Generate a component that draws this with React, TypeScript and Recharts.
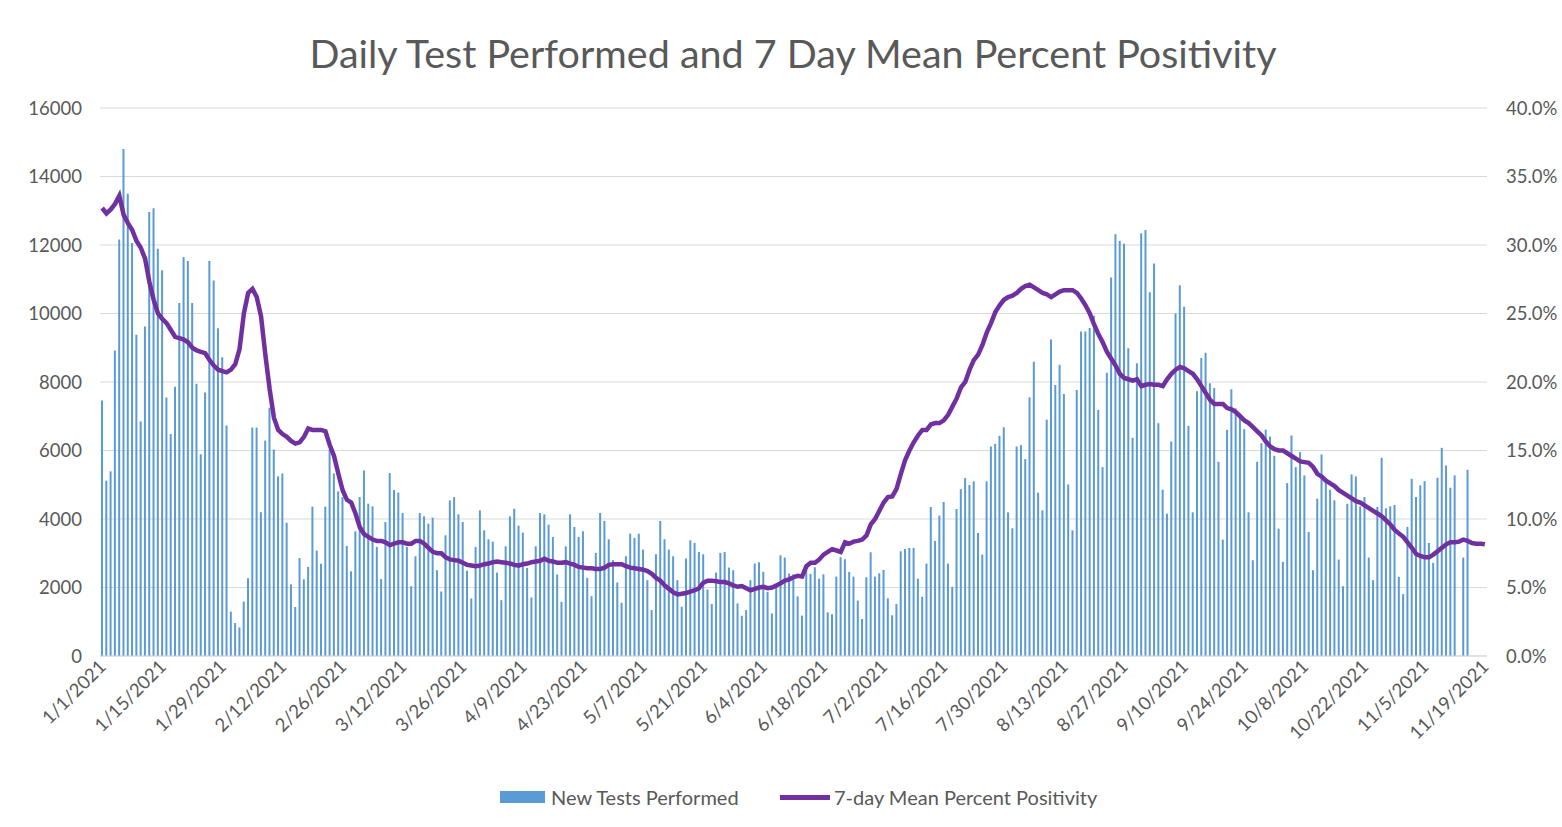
import React from 'react';
import { ComposedChart, Bar, Line, XAxis, YAxis, CartesianGrid, Legend } from 'recharts';

// Categories: every day from 1/1/2021 to 11/19/2021
const dates: string[] = [];
for (let i = 0; i < 323; i++) {
  const d = new Date(2021, 0, 1 + i);
  dates.push(`${d.getMonth() + 1}/${d.getDate()}/${d.getFullYear()}`);
}

const tickLabels = [
  '1/1/2021', '1/15/2021', '1/29/2021', '2/12/2021', '2/26/2021', '3/12/2021', '3/26/2021', '4/9/2021',
  '4/23/2021', '5/7/2021', '5/21/2021', '6/4/2021', '6/18/2021', '7/2/2021', '7/16/2021', '7/30/2021',
  '8/13/2021', '8/27/2021', '9/10/2021', '9/24/2021', '10/8/2021', '10/22/2021', '11/5/2021', '11/19/2021',
];

const leftTicks = [0, 2000, 4000, 6000, 8000, 10000, 12000, 14000, 16000];
const rightTicks = [0, 5, 10, 15, 20, 25, 30, 35, 40];

// New tests performed per day
const newTests: (number | null)[] = [
  7460, 5120, 5390, 8920, 12160, 14800, 13500, 12060, 9380, 6850, 9620, 12960, 13070, 11890, 11260, 7550, 6480, 7860, 10310, 11650, 11530, 10310, 7950, 5890, 7690, 11530, 10960,
  9570, 8725, 6730, 1296, 960, 836, 1590, 2270, 6670, 6670, 4200, 6290, 7250, 6030, 5245, 5330, 3890, 2090, 1430, 2860, 2240, 2600, 4360, 3080, 2690, 4360, 6030, 5330,
  4806, 4640, 3214, 2476, 3641, 4640, 5418, 4447, 4370, 3185, 2243, 3913, 5340, 4845, 4768, 4175, 3185, 2039, 2913, 4175, 4078, 3865, 4040, 2505, 1884, 3525, 4544,
  4641, 4136, 3913, 2486, 1680, 3185, 4253, 3670, 3408, 3340, 2437, 1631, 3204, 4078, 4302, 3806, 3602, 2573, 1709, 3204, 4175, 4136, 3835, 3476, 2379, 1583, 3204,
  4136, 3767, 3476, 3641, 2282, 1748, 3010, 4175, 3942, 3408, 2796, 2146, 1554, 2913, 3573, 3447, 3573, 3107, 2214, 1340, 2971, 3942, 3408, 3107, 2913, 2214, 1437,
  2845, 3379, 3301, 3039, 2971, 1942, 1515, 2437, 3010, 3039, 2583, 2505, 1534, 1175, 1340, 2214, 2699, 2738, 2457, 1874, 1243, 2020, 2942, 2874, 2408, 2389, 1740, 1180,
  2513, 2396, 2591, 2260, 2386, 1276, 1218, 2318, 2883, 2825, 2455, 2318, 1617, 1081, 2299, 3029, 2318, 2416, 2513, 1685, 1188, 1519, 3058, 3127, 3156, 3156, 2256,
  1728, 2699, 4350, 3360, 4098, 4496, 2699, 2020, 4292, 4874, 5195, 4991, 5098, 3593, 2961, 5098, 6117, 6195, 6428, 6680, 4195, 3729, 6117, 6156, 5748, 7554, 8590,
  4768, 4253, 6904, 9244, 7914, 8506, 7651, 5010, 3670, 7768, 9477, 9477, 9574, 9933, 7185, 5515, 8273, 11050, 12312, 12118, 12040, 8982, 6370, 8545, 12341, 12438, 10620,
  11458, 6797, 4855, 4156, 6263, 10000, 10826, 10196, 6719, 4195, 7729, 8700, 8855, 7962, 7826, 5671, 3399, 6603, 7787, 7234, 7088, 6622, 4195, 2796, 5671, 6214, 6612,
  6409, 5845, 3719, 2748, 5049, 6438, 5515, 5952, 5272, 3622, 2505, 4593, 5884, 5078, 4855, 4544, 2816, 2039, 4447, 5302, 5243, 4370, 4641, 2874, 2214, 4350, 5787,
  4311, 4370, 4408, 2311, 1806, 3767, 5175, 4641, 4981, 5107, 3301, 2719, 5204, 6078, 5564, 4913, 5272, null, 2874, 5437,
  null, null, null, null,
];

// 7-day mean percent positivity (%)
const positivity: number[] = [
  32.7, 32.3, 32.6, 33.0, 33.6, 32.2, 31.6, 31.1, 30.3, 29.8, 29.0, 27.3, 26.0, 25.0, 24.6, 24.3, 23.8, 23.3, 23.2, 23.1, 22.9, 22.5, 22.3, 22.2, 22.1, 21.6, 21.2,
  20.9, 20.8, 20.7, 20.9, 21.3, 22.4, 25.0, 26.5, 26.8, 26.2, 24.8, 22.0, 19.5, 17.4, 16.5, 16.2, 16.0, 15.7, 15.5, 15.6, 16.0, 16.6, 16.5, 16.5, 16.5, 16.4, 15.4,
  14.6, 13.3, 12.1, 11.4, 11.2, 10.4, 9.4, 8.9, 8.7, 8.5, 8.4, 8.4, 8.3, 8.1, 8.2, 8.3, 8.3, 8.2, 8.2, 8.4, 8.4, 8.2, 7.9, 7.6, 7.5, 7.5, 7.2,
  7.05, 7.0, 6.95, 6.8, 6.65, 6.6, 6.55, 6.6, 6.7, 6.75, 6.85, 6.9, 6.85, 6.8, 6.75, 6.65, 6.6, 6.7, 6.75, 6.85, 6.9, 6.95, 7.1, 6.95, 6.9, 6.8, 6.8,
  6.85, 6.75, 6.65, 6.5, 6.45, 6.4, 6.4, 6.35, 6.35, 6.45, 6.65, 6.7, 6.7, 6.7, 6.55, 6.45, 6.4, 6.35, 6.3, 6.2, 6.0, 5.7, 5.5, 5.15, 4.9, 4.65, 4.5,
  4.55, 4.6, 4.7, 4.8, 4.95, 5.35, 5.5, 5.5, 5.45, 5.4, 5.4, 5.3, 5.15, 5.05, 5.1, 4.95, 4.8, 4.9, 5.0, 5.05, 4.95, 5.0, 5.15, 5.3, 5.5, 5.6, 5.75,
  5.85, 5.8, 6.55, 6.8, 6.8, 7.05, 7.4, 7.6, 7.8, 7.7, 7.6, 8.3, 8.2, 8.35, 8.4, 8.5, 8.8, 9.6, 10.0, 10.6, 11.2, 11.6, 11.65, 12.2, 13.3, 14.3, 15.0,
  15.6, 16.1, 16.5, 16.5, 16.9, 17.0, 17.0, 17.2, 17.6, 18.2, 18.8, 19.6, 20.0, 20.9, 21.6, 22.0, 22.7, 23.6, 24.3, 25.1, 25.6, 26.0, 26.2, 26.3, 26.5, 26.8, 27.0, 27.1,
  26.9, 26.7, 26.5, 26.4, 26.2, 26.4, 26.6, 26.7, 26.7, 26.7, 26.5, 26.1, 25.6, 25.0, 24.2, 23.5, 22.9, 22.2, 21.7, 21.2, 20.6, 20.3, 20.2, 20.1, 20.2, 19.7, 19.8,
  19.85, 19.8, 19.8, 19.7, 20.2, 20.6, 20.9, 21.1, 21.0, 20.8, 20.6, 20.2, 19.7, 19.2, 18.7, 18.4, 18.4, 18.4, 18.1, 18.0, 17.8, 17.5, 17.2, 17.0, 16.7, 16.4, 16.1,
  15.65, 15.3, 15.1, 15.0, 15.0, 14.8, 14.6, 14.4, 14.2, 14.15, 14.1, 13.8, 13.3, 13.1, 12.8, 12.6, 12.4, 12.1, 11.9, 11.7, 11.5, 11.3, 11.2, 11.0, 10.8, 10.6, 10.4,
  10.2, 9.9, 9.6, 9.2, 8.95, 8.7, 8.3, 7.9, 7.45, 7.3, 7.2, 7.2, 7.4, 7.65, 7.9, 8.15, 8.3, 8.3, 8.35, 8.5, 8.4, 8.25, 8.2, 8.2, 8.15,
];

const data = dates.map((date, i) => ({
  date,
  tests: newTests[i] ?? null,
  pos: positivity[i],
}));

const FONT = 'Lato, "Open Sans", sans-serif';
const TEXT = '#595959';
const BAR = '#5B9BD5';
const LINE = '#7030A0';
const AXIS_FS = 18.5;

const XTick = (props: any) => {
  const { x, y, payload } = props;
  return (
    <g transform={`translate(${x + 5},${y + 12})`}>
      <text x={0} y={0} textAnchor="end" transform="rotate(-45)" fill={TEXT} fontSize={AXIS_FS} fontFamily={FONT}>
        {payload.value}
      </text>
    </g>
  );
};

const LegendContent = () => (
  <div style={{ position: 'relative', height: 40, fontFamily: FONT, fontSize: 20, lineHeight: '24px', color: TEXT }}>
    <div style={{ position: 'absolute', left: 500, top: 14, width: 45, height: 12, background: BAR }} />
    <div style={{ position: 'absolute', left: 551, top: 8, whiteSpace: 'nowrap' }}>New Tests Performed</div>
    <div style={{ position: 'absolute', left: 780, top: 18, width: 50, height: 4.5, background: LINE }} />
    <div style={{ position: 'absolute', left: 834, top: 8, whiteSpace: 'nowrap' }}>7-day Mean Percent Positivity</div>
  </div>
);

export default function App() {
  return (
    <div style={{ position: 'absolute', left: 0, top: 0, width: 1562, height: 827, background: '#fff' }}>
      <div
        style={{
          position: 'absolute', left: 0, top: 29, width: 1586, textAlign: 'center',
          fontFamily: FONT, fontSize: 39.5, color: TEXT, whiteSpace: 'nowrap',
        }}
      >
        Daily Test Performed and 7 Day Mean Percent Positivity
      </div>
      <ComposedChart
        width={1562}
        height={827}
        data={data}
        margin={{ top: 108, right: 0, bottom: 10, left: 0 }}
        barSize={2}
        barCategoryGap={0}
      >
        <CartesianGrid yAxisId="left" vertical={false} stroke="#d9d9d9" strokeWidth={1} />
        <XAxis
          dataKey="date"
          ticks={tickLabels}
          interval={0}
          tick={<XTick />}
          tickSize={0}
          tickMargin={0}
          height={121}
          axisLine={{ stroke: '#d9d9d9' }}
          tickLine={false}
        />
        <YAxis
          yAxisId="left"
          width={100}
          domain={[0, 16000]}
          ticks={leftTicks}
          tickSize={0}
          tickMargin={18}
          axisLine={false}
          tickLine={false}
          tick={{ fill: TEXT, fontSize: AXIS_FS, fontFamily: FONT }}
        />
        <YAxis
          yAxisId="right"
          orientation="right"
          width={75}
          domain={[0, 40]}
          ticks={rightTicks}
          tickSize={0}
          tickMargin={19}
          axisLine={false}
          tickLine={false}
          tickFormatter={(v: number) => `${v.toFixed(1)}%`}
          tick={{ fill: TEXT, fontSize: AXIS_FS, fontFamily: FONT, textAnchor: 'start' }}
        />
        <Bar yAxisId="left" dataKey="tests" name="New Tests Performed" fill={BAR} isAnimationActive={false} />
        <Line
          yAxisId="right"
          dataKey="pos"
          name="7-day Mean Percent Positivity"
          stroke={LINE}
          strokeWidth={4.5}
          dot={false}
          type="linear"
          isAnimationActive={false}
        />
        <Legend verticalAlign="bottom" height={40} content={<LegendContent />} />
      </ComposedChart>
    </div>
  );
}
